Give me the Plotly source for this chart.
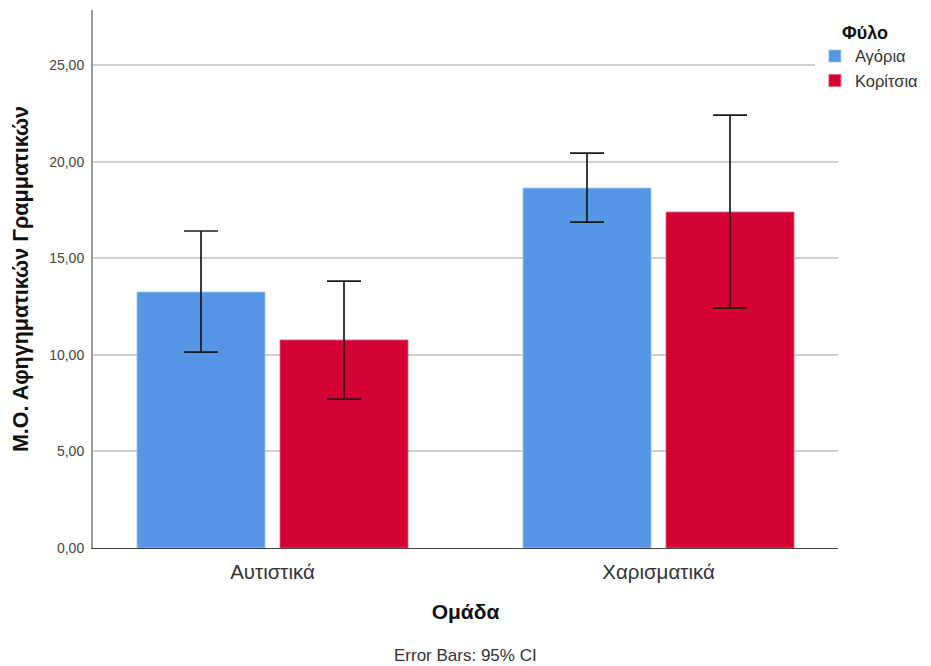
import plotly.graph_objects as go

categories = ["Αυτιστικά", "Χαρισματικά"]
boys_mean = [13.25, 18.63]
boys_upper = [16.41, 20.44]
boys_lower = [10.14, 16.87]
girls_mean = [10.77, 17.39]
girls_upper = [13.82, 22.41]
girls_lower = [7.71, 12.42]
tick_vals = [0, 5, 10, 15, 20, 25]

FONT = "Liberation Sans, Arial, sans-serif"

def err(mean, up, lo):
    return dict(type="data", symmetric=False,
                array=[u - m for u, m in zip(up, mean)],
                arrayminus=[m - l for m, l in zip(mean, lo)],
                color="#1a1a1a", thickness=1.7, width=17)

fig = go.Figure()
fig.add_trace(go.Bar(name="Αγόρια", x=categories, y=boys_mean,
                     marker=dict(color="#5596E6", line=dict(color="#9cc3f0", width=0.8)),
                     error_y=err(boys_mean, boys_upper, boys_lower)))
fig.add_trace(go.Bar(name="Κορίτσια", x=categories, y=girls_mean,
                     marker=dict(color="#D50032", line=dict(color="#e26080", width=0.8)),
                     error_y=err(girls_mean, girls_upper, girls_lower)))

fig.update_layout(
    width=915, height=666,
    margin=dict(l=85, r=85, t=2, b=126, autoexpand=False),
    paper_bgcolor="white", plot_bgcolor="white",
    font=dict(family=FONT, color="#222"),
    separators=",.",
    barmode="group", bargap=0.259, bargroupgap=0.105,
    showlegend=True,
    legend=dict(x=0.969, y=0.99, xanchor="left", yanchor="top",
                title=dict(text="&nbsp;&nbsp;&nbsp;&nbsp;&nbsp;<b>Φύλο</b>", font=dict(size=18, color="#111")),
                font=dict(size=16.5, color="#333"),
                itemwidth=30, tracegroupgap=0),
    xaxis=dict(range=[-0.465, 1.465], showline=True, linecolor="#444", linewidth=1,
               ticks="", tickfont=dict(size=20.5, color="#333"), ticklabelstandoff=5,
               title=dict(text="<b>Ομάδα</b>", font=dict(size=21, color="#111"), standoff=22)),
    yaxis=dict(range=[0, 27.85], tickvals=tick_vals, tickformat=".2f",
               showline=True, linecolor="#999", linewidth=2,
               showgrid=True, gridcolor="#cfcfcf", gridwidth=1.5,
               zeroline=False, ticks="", ticklabelstandoff=4,
               tickfont=dict(size=14, color="#444"),
               title=dict(text="<b>Μ.Ο. Αφηγηματικών Γραμματικών</b>",
                          font=dict(size=21.5, color="#111"), standoff=15)),
    annotations=[dict(text="Error Bars: 95% CI", x=0.5, y=-0.2, xref="paper", yref="paper",
                      xanchor="center", yanchor="middle", showarrow=False,
                      font=dict(size=17, color="#333"))],
)

fig.write_html("out.html")
